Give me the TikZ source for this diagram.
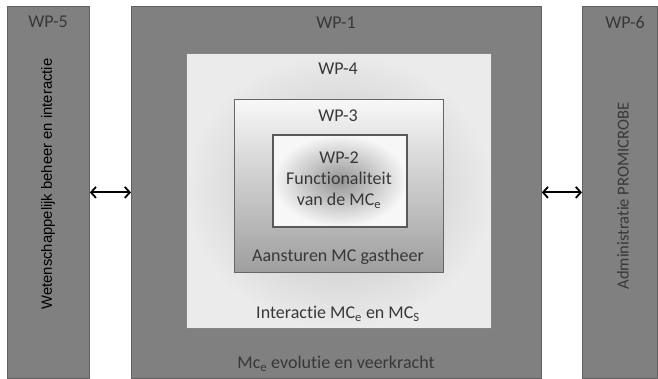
\documentclass[tikz,border=0pt]{standalone}
\usepackage{fontspec}
\setmainfont{Carlito}[Ligatures=NoCommon]
\newfontfamily\arialfont{Liberation Sans}
\usetikzlibrary{arrows.meta}

\begin{document}
\begin{tikzpicture}[x=1pt,y=-1pt]
    \tikzstyle{wpbox}=[rectangle, draw=black!62, fill=black!50, line width=0.8pt, anchor=north west]
    \tikzstyle{wptext}=[text=black!78, font=\fontsize{18}{21}\selectfont, inner sep=0pt]
    \tikzstyle{link}=[<->, line width=1.8pt, >={Straight Barb[length=5pt,width=11pt]}]
    \clip (0,0) rectangle (658,379);

    % side and main work packages
    \node[wpbox, minimum width=82, minimum height=372] (wp5) at (7,6) {};
    \node[wpbox, minimum width=410, minimum height=372] (wp1) at (131,6) {};
    \node[wpbox, minimum width=75, minimum height=372] (wp6) at (582,6) {};

    % nested work packages
    \node[wpbox, draw=black!48, line width=1.2pt, shade, inner color=black!26,
          outer color=black!8, minimum width=305, minimum height=275] (wp4) at (186,53) {};
    \node[wpbox, draw=black!60, line width=1.3pt, shade, top color=black!3,
          bottom color=black!38, minimum width=209, minimum height=173] (wp3) at (234,99) {};
    \node[wpbox, draw=black!65, line width=1.6pt, shade, inner color=black!42,
          outer color=black!3, minimum width=134, minimum height=92] (wp2) at (272,134) {};

    \draw[link] (wp5) -- (wp1);
    \draw[link] (wp1) -- (wp6);

    \node[wptext] (t5) at (48,22) {WP-5};
    \node[rotate=90, font=\arialfont\fontsize{14.8}{16}\selectfont, inner sep=0pt] (v5) at (48,184)
        {Wetenschappelijk beheer en interactie};
    \node[wptext] (t1) at (336,23) {WP-1};
    \node[wptext] (b1) at (336,364) {Mc\textsubscript{e} evolutie en veerkracht};
    \node[wptext] (t4) at (338,69) {WP-4};
    \node[wptext] (b4) at (338,314) {Interactie MC\textsubscript{e} en MC\textsubscript{S}};
    \node[wptext] (t3) at (338,116) {WP-3};
    \node[wptext] (b3) at (338,257) {Aansturen MC gastheer};
    \node[wptext, align=center] (t2) at (339,180) {WP-2\\Functionaliteit\\van de MC\textsubscript{e}};
    \node[wptext] (t6) at (625,22) {WP-6};
    \node[wptext, rotate=90, font=\fontsize{16.6}{20}\selectfont] (v6) at (623,196) {Administratie PROMICROBE};
\end{tikzpicture}
\end{document}
